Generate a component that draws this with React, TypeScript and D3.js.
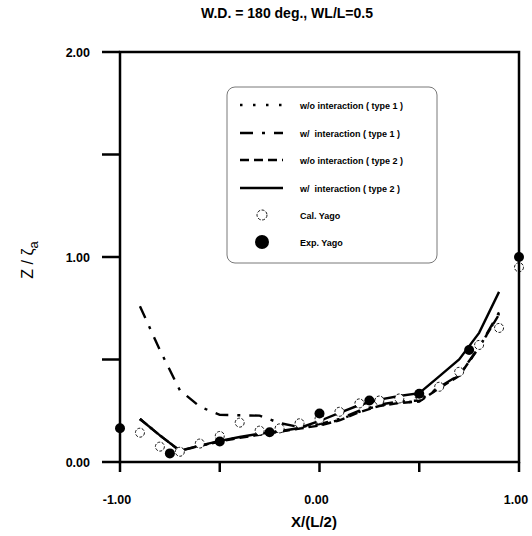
import React from "react";
import * as d3 from "d3";

const TITLE = "W.D. = 180 deg., WL/L=0.5";
const X_TICKS = [-1, -0.5, 0, 0.5, 1];
const X_TICK_LABELS = ["-1.00", "", "0.00", "", "1.00"];
const Y_TICKS = [0, 0.5, 1, 1.5, 2];
const Y_TICK_LABELS = ["0.00", "", "1.00", "", "2.00"];

const LINE_X = [-0.9, -0.8, -0.7, -0.6, -0.5, -0.4, -0.3, -0.2, -0.1, 0, 0.1, 0.2, 0.3, 0.4, 0.5, 0.6, 0.7, 0.8, 0.9];
const WO_TYPE1 = [0.21, 0.13, 0.055, 0.079, 0.101, 0.12, 0.135, 0.149, 0.164, 0.18, 0.205, 0.245, 0.276, 0.29, 0.296, 0.362, 0.422, 0.558, 0.722];
const W_TYPE1 = [0.76, 0.546, 0.35, 0.27, 0.23, 0.228, 0.226, 0.19, 0.17, 0.185, 0.21, 0.25, 0.28, 0.295, 0.3, 0.365, 0.425, 0.56, 0.73];
const WO_TYPE2 = [0.21, 0.13, 0.055, 0.078, 0.1, 0.118, 0.133, 0.148, 0.163, 0.178, 0.203, 0.243, 0.273, 0.288, 0.295, 0.36, 0.42, 0.56, 0.72];
const W_TYPE2 = [0.21, 0.13, 0.055, 0.08, 0.103, 0.122, 0.138, 0.15, 0.166, 0.2, 0.24, 0.278, 0.304, 0.322, 0.336, 0.418, 0.5, 0.63, 0.83];

const CAL_X = [-0.9, -0.8, -0.7, -0.6, -0.5, -0.4, -0.3, -0.2, -0.1, 0, 0.1, 0.2, 0.3, 0.4, 0.5, 0.6, 0.7, 0.8, 0.9, 1.0];
const CAL_Y = [0.143, 0.075, 0.05, 0.09, 0.127, 0.192, 0.153, 0.164, 0.189, 0.21, 0.245, 0.286, 0.3, 0.31, 0.325, 0.367, 0.44, 0.571, 0.654, 0.95];

const EXP_X = [-1, -0.75, -0.5, -0.25, 0, 0.25, 0.5, 0.75, 1];
const EXP_Y = [0.165, 0.042, 0.1, 0.145, 0.237, 0.3, 0.333, 0.546, 1.0];

const LEGEND_LABELS = [
  "w/o interaction ( type 1 )",
  "w/  interaction ( type 1 )",
  "w/o interaction ( type 2 )",
  "w/  interaction ( type 2 )",
  "Cal. Yago",
  "Exp. Yago",
];

const FONT = "'Liberation Sans', Arial, sans-serif";

export default function App() {
  const left = 120, right = 519, top = 52, bottom = 462;
  const x = d3.scaleLinear().domain([-1, 1]).range([left, right]);
  const y = d3.scaleLinear().domain([0, 2]).range([bottom, top]);

  const lineGen = (vals: number[]) =>
    d3.line<number>().x((_, i) => x(LINE_X[i])).y((v) => y(v))(vals) || "";

  const series = [
    { vals: WO_TYPE1, dash: "2.5 10.5", width: 2.4 },
    { vals: W_TYPE1, dash: "13 9 3 9", width: 2.4 },
    { vals: WO_TYPE2, dash: "9 5", width: 2.4 },
    { vals: W_TYPE2, dash: "", width: 2.4 },
  ];

  const legX = 227, legY = 87, legW = 210, legH = 176;
  const rowY = [105, 133, 160, 188, 215, 242];

  return (
    <svg
      width={532}
      height={536}
      style={{ position: "absolute", left: 0, top: 0, background: "#fff" }}
      fontFamily={FONT}
    >
      <rect x={0} y={0} width={532} height={536} fill="#fff" />
      <text x={287} y={18} textAnchor="middle" fontSize={14} fontWeight="bold" fill="#000">
        {TITLE}
      </text>

      {series.map((s, i) => (
        <path
          key={i}
          d={lineGen(s.vals)}
          fill="none"
          stroke="#000"
          strokeWidth={s.width}
          strokeDasharray={s.dash || undefined}
        />
      ))}

      {CAL_X.map((cx, i) => (
        <circle key={"c" + i} cx={x(cx)} cy={y(CAL_Y[i])} r={4.5} fill="#fff" stroke="#000" strokeWidth={0.9} strokeDasharray="3 1.5" />
      ))}
      {EXP_X.map((ex, i) => (
        <circle key={"e" + i} cx={x(ex)} cy={y(EXP_Y[i])} r={5} fill="#000" />
      ))}

      <rect x={left} y={top} width={right - left} height={bottom - top} fill="none" stroke="#000" strokeWidth={2.5} />
      {Y_TICKS.map((t, i) => (
        <g key={"yt" + i}>
          <line x1={left - 18} x2={left} y1={y(t)} y2={y(t)} stroke="#000" strokeWidth={2.5} />
          {Y_TICK_LABELS[i] && (
            <text x={90} y={y(t) + 4.5} textAnchor="end" fontSize={12.5} fontWeight="bold" fill="#000">
              {Y_TICK_LABELS[i]}
            </text>
          )}
        </g>
      ))}
      {X_TICKS.map((t, i) => (
        <g key={"xt" + i}>
          <line x1={x(t)} x2={x(t)} y1={bottom} y2={bottom + 10} stroke="#000" strokeWidth={2.5} />
          {X_TICK_LABELS[i] && (
            <text x={x(t) - 3} y={504} textAnchor="middle" fontSize={12.5} fontWeight="bold" fill="#000">
              {X_TICK_LABELS[i]}
            </text>
          )}
        </g>
      ))}

      <text x={314} y={527} textAnchor="middle" fontSize={15} fill="#000" fontWeight="bold">
        X/(L/2)
      </text>
      <text transform="translate(33,260) rotate(-90)" textAnchor="middle" fontSize={16} fill="#000">
        <tspan>Z / ζ</tspan>
        <tspan dy={5} fontSize={13}>a</tspan>
      </text>

      <rect x={legX} y={legY} width={legW} height={legH} rx={8} ry={8} fill="#fff" stroke="#555" strokeWidth={0.8} />
      {series.map((s, i) => (
        <line
          key={"ll" + i}
          x1={240}
          x2={283}
          y1={rowY[i]}
          y2={rowY[i]}
          stroke="#000"
          strokeWidth={s.width}
          strokeDasharray={s.dash || undefined}
        />
      ))}
      <circle cx={262} cy={rowY[4]} r={5} fill="#fff" stroke="#000" strokeWidth={0.9} strokeDasharray="3 1.5" />
      <circle cx={262} cy={rowY[5]} r={7} fill="#000" />
      {LEGEND_LABELS.map((l, i) => (
        <text key={"lt" + i} x={300} y={rowY[i] + 3.5} fontSize={9} fontWeight="bold" fill="#000" style={{ whiteSpace: "pre" }}>
          {l}
        </text>
      ))}
    </svg>
  );
}
